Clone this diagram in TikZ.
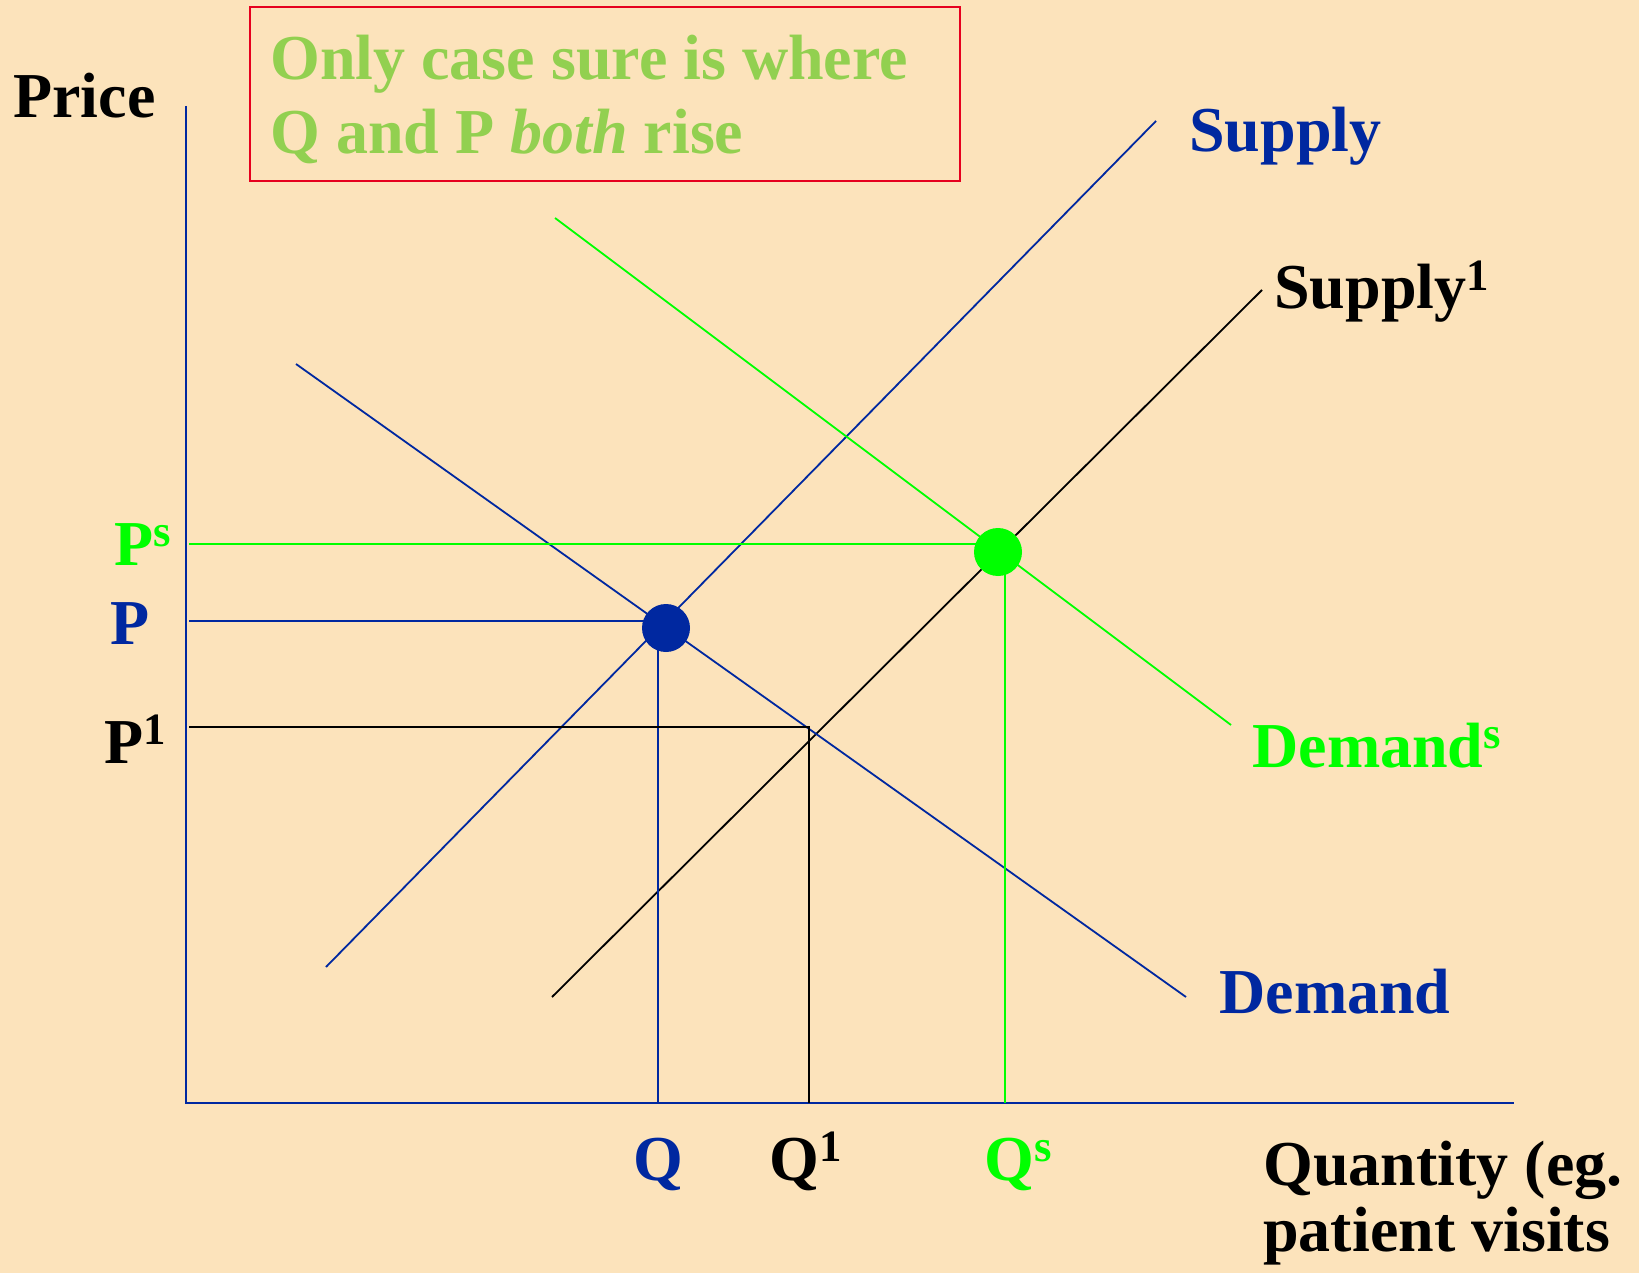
\documentclass[tikz,border=0pt]{standalone}
\usepackage{fontspec}
\setmainfont{Liberation Serif}
\definecolor{bg}{RGB}{252,227,187}
\definecolor{lblue}{RGB}{0,40,160}
\definecolor{lgreen}{RGB}{0,255,0}
\definecolor{notegreen}{RGB}{146,208,80}
\definecolor{boxred}{RGB}{230,0,30}
\begin{document}
\begin{tikzpicture}[x=0.5pt,y=-0.5pt,
  lbl/.style={font=\fontsize{32}{38}\selectfont\bfseries, inner sep=0pt, anchor=base west},
  curve/.style={line width=0.9pt},
  dot/.style={circle, inner sep=0pt, minimum size=24pt}]
\fill[bg] (0,0) rectangle (1639,1273);
\useasboundingbox (0,0) rectangle (1639,1273);
% note box
\node (note) [draw=boxred, line width=1pt, rectangle, inner sep=0pt, minimum width=355pt, minimum height=87pt, anchor=north west] at (249,6) {};
\node (note1) [lbl, text=notegreen] at (270,80) {Only case sure is where};
\node (note2) [lbl, text=notegreen] at (270,154) {Q and P \textit{both} rise};
% axes
\coordinate (o) at (186,1103);
\coordinate (ytop) at (186,106);
\coordinate (xend) at (1514,1103);
\draw[lblue, line width=1.2pt] (ytop) -- (o) -- (xend);
% curve endpoints
\coordinate (s0) at (326,967);  \coordinate (s1) at (1156,121);
\coordinate (t0) at (552,997);  \coordinate (t1) at (1262,290);
\coordinate (d0) at (296,364);  \coordinate (d1) at (1186,997);
\coordinate (g0) at (555,218);  \coordinate (g1) at (1231,725);
% equilibrium centres
\coordinate (bc) at (666,628);
\coordinate (gc) at (998,552);
% guide line anchors
\coordinate (pP) at (189,621);
\coordinate (pS) at (189,544);
\coordinate (p1) at (189,727);
\coordinate (qQ) at (658,1103);
\coordinate (q1) at (809,1103);
\coordinate (qS) at (1005,1103);
\draw[curve, lblue] (s0) -- (s1);
\draw[curve, black] (t0) -- (t1);
\draw[curve, lblue] (d0) -- (d1);
\draw[curve, lgreen] (g0) -- (g1);
\draw[curve, lblue] (pP) -- (pP -| bc);
\draw[curve, lblue] (qQ) -- (qQ |- bc);
\draw[curve, lgreen] (pS) -- (pS -| gc);
\draw[curve, lgreen] (qS) -- (qS |- gc);
\draw[curve, black] (p1) -- (p1 -| q1) -- (q1);
\node (bdot) [dot, fill=lblue] at (bc) {};
\node (gdot) [dot, fill=lgreen] at (gc) {};
% labels
\node (price) [lbl] at (13,118) {Price};
\node (lsupply) [lbl, text=lblue] at (1189,152) {Supply};
\node (lsupply1) [lbl] at (1274,309) {Supply\textsuperscript{1}};
\node (ldemands) [lbl, text=lgreen] at (1252,767) {Demand\textsuperscript{s}};
\node (ldemand) [lbl, text=lblue] at (1219,1013) {Demand};
\node (lps) [lbl, text=lgreen] at (114,565) {P\textsuperscript{s}};
\node (lp) [lbl, text=lblue] at (110,644) {P};
\node (lp1) [lbl] at (104,763) {P\textsuperscript{1}};
\node (lq) [lbl, text=lblue] at (633,1180) {Q};
\node (lq1) [lbl] at (769,1180) {Q\textsuperscript{1}};
\node (lqs) [lbl, text=lgreen] at (984,1180) {Q\textsuperscript{s}};
\node (lquant1) [lbl] at (1263,1185) {Quantity (eg.};
\node (lquant2) [lbl] at (1263,1251) {patient visits};
\end{tikzpicture}
\end{document}
